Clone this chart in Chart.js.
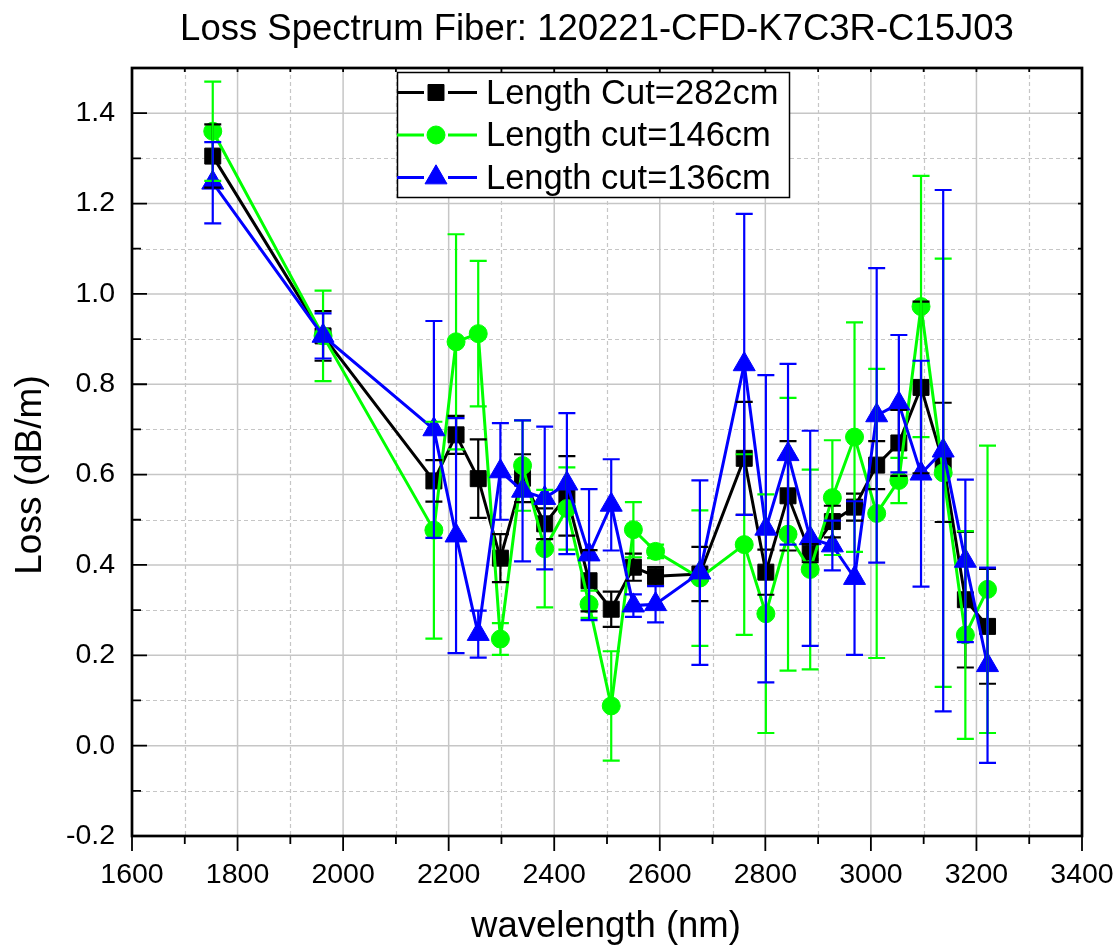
<!DOCTYPE html>
<html><head><meta charset="utf-8">
<script src="https://cdn.jsdelivr.net/npm/chart.js@4.4.1/dist/chart.umd.min.js"></script>
<style>html,body{margin:0;padding:0;background:#fff;}#wrap{width:1120px;height:951px;}</style>
</head><body><div id="wrap"><canvas id="c" width="1120" height="951"></canvas></div>
<script>
// ---- data ----
const wavelength = [1753, 1962, 2172, 2214, 2256, 2298, 2340, 2382, 2424, 2466, 2508, 2550, 2592, 2676, 2760, 2801, 2843, 2885, 2927, 2969, 3011, 3053, 3095, 3137, 3179, 3221];
const loss282 = [1.305, 0.907, 0.586, 0.688, 0.591, 0.415, 0.592, 0.491, 0.553, 0.365, 0.302, 0.395, 0.375, 0.380, 0.636, 0.384, 0.553, 0.426, 0.496, 0.528, 0.621, 0.670, 0.793, 0.627, 0.323, 0.264];
const err282  = [0.070, 0.055, 0.046, 0.042, 0.087, 0.053, 0.053, 0.034, 0.088, 0.068, 0.039, 0.030, 0.020, 0.060, 0.125, 0.050, 0.121, 0.020, 0.035, 0.030, 0.053, 0.073, 0.190, 0.132, 0.150, 0.127];
const loss146 = [1.360, 0.907, 0.477, 0.894, 0.912, 0.236, 0.620, 0.436, 0.525, 0.313, 0.088, 0.478, 0.430, 0.371, 0.445, 0.292, 0.468, 0.390, 0.549, 0.683, 0.514, 0.587, 0.972, 0.604, 0.245, 0.346];
const err146  = [0.110, 0.100, 0.240, 0.238, 0.161, 0.035, 0.100, 0.130, 0.091, 0.030, 0.121, 0.061, 0.015, 0.150, 0.200, 0.264, 0.302, 0.221, 0.127, 0.254, 0.320, 0.050, 0.289, 0.474, 0.230, 0.318];
const loss136 = [1.246, 0.907, 0.700, 0.465, 0.247, 0.607, 0.564, 0.548, 0.580, 0.423, 0.533, 0.310, 0.313, 0.383, 0.844, 0.480, 0.645, 0.459, 0.443, 0.371, 0.731, 0.757, 0.602, 0.653, 0.409, 0.178];
const err136  = [0.090, 0.050, 0.240, 0.260, 0.052, 0.107, 0.156, 0.158, 0.156, 0.145, 0.101, 0.025, 0.040, 0.204, 0.333, 0.340, 0.200, 0.238, 0.055, 0.170, 0.326, 0.152, 0.250, 0.577, 0.180, 0.216];
const seriesLabels = ['Length Cut=282cm', 'Length cut=146cm', 'Length cut=136cm'];
const xTickValues = [1600, 1800, 2000, 2200, 2400, 2600, 2800, 3000, 3200, 3400];
const yTickValues = [-0.2, 0.0, 0.2, 0.4, 0.6, 0.8, 1.0, 1.2, 1.4];
const titleText = 'Loss Spectrum Fiber: 120221-CFD-K7C3R-C15J03';
const xTitle = 'wavelength (nm)';
const yTitle = 'Loss (dB/m)';

const FONT = "'Liberation Sans', Arial, Helvetica, sans-serif";
const colors = ['#000000', '#00ff00', '#0000ff'];
const styles = ['rect', 'circle', 'triangle'];
const radii = [11.3, 9, 12.7];
const errs = [err282, err146, err136];
const vals = [loss282, loss146, loss136];

function mk(i) {
  return {
    label: seriesLabels[i],
    data: wavelength.map((w, k) => ({x: w, y: vals[i][k]})),
    borderColor: colors[i], backgroundColor: colors[i],
    borderWidth: 3, pointStyle: styles[i], pointRadius: radii[i],
    pointBorderWidth: 1, pointBorderColor: colors[i], pointBackgroundColor: colors[i],
    tension: 0, order: 2 - i, errors: errs[i]
  };
}

const axesPlugin = {
  id: 'axesPlugin',
  beforeDatasetsDraw(chart) {
    const {ctx, chartArea: a, scales: {x, y}} = chart;
    ctx.save();
    ctx.strokeStyle = '#c6c6c6';
    ctx.lineWidth = 1.2; ctx.setLineDash([4, 3]);
    for (let v = 1700; v < 3400; v += 200) { const p = Math.round(x.getPixelForValue(v)) + 0.5; ctx.beginPath(); ctx.moveTo(p, a.top); ctx.lineTo(p, a.bottom); ctx.stroke(); }
    for (let k = -1; k <= 13; k += 2) { const p = Math.round(y.getPixelForValue(k / 10)) + 0.5; ctx.beginPath(); ctx.moveTo(a.left, p); ctx.lineTo(a.right, p); ctx.stroke(); }
    ctx.setLineDash([]); ctx.lineWidth = 1.5;
    for (const v of xTickValues) { if (v <= 1600 || v >= 3400) continue; const p = x.getPixelForValue(v); ctx.beginPath(); ctx.moveTo(p, a.top); ctx.lineTo(p, a.bottom); ctx.stroke(); }
    for (const v of yTickValues) { if (v <= -0.2) continue; const p = y.getPixelForValue(v); ctx.beginPath(); ctx.moveTo(a.left, p); ctx.lineTo(a.right, p); ctx.stroke(); }
    ctx.restore();
  },
  afterDatasetsDraw(chart) {
    const {ctx, scales: {x, y}} = chart;
    ctx.save();
    ctx.lineWidth = 2.2;
    chart.data.datasets.forEach((ds) => {
      ctx.strokeStyle = ds.borderColor;
      ds.data.forEach((pt, k) => {
        const e = ds.errors[k];
        const px = x.getPixelForValue(pt.x);
        const t = y.getPixelForValue(pt.y + e), b = y.getPixelForValue(pt.y - e);
        ctx.beginPath();
        ctx.moveTo(px, t); ctx.lineTo(px, b);
        ctx.moveTo(px - 8.5, t); ctx.lineTo(px + 8.5, t);
        ctx.moveTo(px - 8.5, b); ctx.lineTo(px + 8.5, b);
        ctx.stroke();
      });
    });
    ctx.restore();
  },
  afterDraw(chart) {
    const {ctx, chartArea: a, scales: {x, y}} = chart;
    ctx.save();
    ctx.strokeStyle = '#000'; ctx.lineWidth = 1.8;
    ctx.beginPath();
    for (let v = 1600; v <= 3400; v += 100) {
      const p = x.getPixelForValue(v); const major = (v % 200 === 0);
      ctx.moveTo(p, a.bottom); ctx.lineTo(p, a.bottom + (major ? 15 : 8));
      ctx.moveTo(p, a.top); ctx.lineTo(p, a.top + 4);
    }
    for (let k = -2; k <= 15; k++) {
      const p = y.getPixelForValue(k / 10); const major = (k % 2 === 0);
      ctx.moveTo(a.left, p); ctx.lineTo(a.left + (major ? 15 : 9), p);
      ctx.moveTo(a.right, p); ctx.lineTo(a.right - 4, p);
    }
    ctx.stroke();
    ctx.lineWidth = 2.7;
    ctx.strokeRect(a.left, a.top, a.right - a.left, a.bottom - a.top);
    ctx.fillStyle = '#000';
    ctx.textAlign = 'center'; ctx.textBaseline = 'alphabetic';
    ctx.font = '36.5px ' + FONT;
    ctx.fillText(titleText, 597, 40);
    ctx.font = '36.5px ' + FONT;
    ctx.fillText(xTitle, 606, 937);
    ctx.save(); ctx.translate(41, 475); ctx.rotate(-Math.PI / 2);
    ctx.font = '37px ' + FONT;
    ctx.fillText(yTitle, 0, 0); ctx.restore();
    // legend
    const L = 397, T = 72, R = 789, B = 197;
    ctx.fillStyle = '#fff'; ctx.fillRect(L, T, R - L, B - T);
    ctx.lineWidth = 1.5; ctx.strokeStyle = '#000'; ctx.strokeRect(L + 0.5, T + 0.5, R - L, B - T);
    const rows = [92.5, 135, 177.5];
    chart.data.datasets.forEach((ds, i) => {
      const cy = rows[i];
      ctx.strokeStyle = ds.borderColor; ctx.lineWidth = 3;
      ctx.beginPath(); ctx.moveTo(L, cy); ctx.lineTo(424, cy); ctx.moveTo(448, cy); ctx.lineTo(477, cy); ctx.stroke();
      ctx.fillStyle = ds.borderColor; ctx.strokeStyle = ds.borderColor; ctx.lineWidth = 1;
      Chart.helpers.drawPoint(ctx, {pointStyle: ds.pointStyle, radius: ds.pointRadius, borderWidth: 1, rotation: 0}, 436, cy);
      ctx.fillStyle = '#000'; ctx.textAlign = 'left'; ctx.textBaseline = 'alphabetic';
      ctx.font = '34.5px ' + FONT;
      ctx.fillText(ds.label, 486, cy + 11);
    });
    ctx.restore();
  }
};

new Chart(document.getElementById('c'), {
  type: 'line',
  data: {datasets: [mk(0), mk(1), mk(2)]},
  options: {
    responsive: false, animation: false, devicePixelRatio: 1,
    layout: {padding: {top: 68, right: 38, left: 0, bottom: 0}},
    plugins: {legend: {display: false}, tooltip: {enabled: false}, title: {display: false}},
    scales: {
      x: {
        type: 'linear', min: 1600, max: 3400,
        afterBuildTicks(s) { s.ticks = xTickValues.map(v => ({value: v})); },
        afterFit(s) { s.height = 115; s.paddingLeft = 0; s.paddingRight = 0; },
        grid: {display: false, drawTicks: false}, border: {display: false},
        ticks: {padding: 22, color: '#000', font: {family: FONT, size: 28.5}, maxRotation: 0, autoSkip: false, callback: v => String(v)}
      },
      y: {
        type: 'linear', min: -0.2, max: 1.5,
        afterBuildTicks(s) { s.ticks = yTickValues.map(v => ({value: v})); },
        afterFit(s) { s.width = 132; s.paddingTop = 0; s.paddingBottom = 0; },
        grid: {display: false, drawTicks: false}, border: {display: false},
        ticks: {padding: 17, color: '#000', font: {family: FONT, size: 28.5}, callback: v => v.toFixed(1)}
      }
    }
  },
  plugins: [axesPlugin]
});
</script></body></html>
